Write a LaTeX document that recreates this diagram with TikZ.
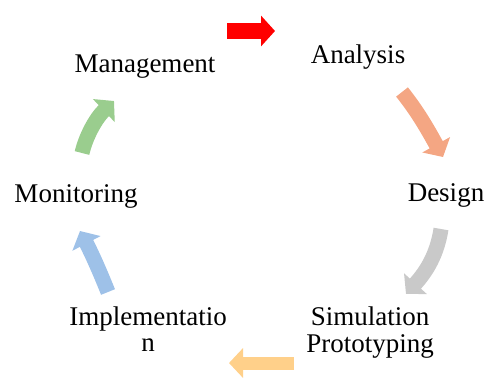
\documentclass[tikz,border=0pt]{standalone}
\usepackage{fontspec}
\setmainfont{Liberation Serif}
\usetikzlibrary{arrows.meta}
\definecolor{cRed}{HTML}{FF0000}
\definecolor{cSalmon}{HTML}{F4A683}
\definecolor{cGray}{HTML}{C9C9C9}
\definecolor{cOrange}{HTML}{FFD08A}
\definecolor{cBlue}{HTML}{9EC1E8}
\definecolor{cGreen}{HTML}{9ACD8E}
\begin{document}
\begin{tikzpicture}[x=1pt,y=-1pt,
  lbl/.style={inner sep=0pt,anchor=base,font=\fontsize{27}{27}\selectfont},
  cyc/.style={line width=#1, line cap=butt},
  head/.style={-{Triangle[width=#1,length=14pt]}}]
\useasboundingbox (0,0) rectangle (489,378);

% stage labels
\node[lbl] (mgmt) at (145,72) {Management};
\node[lbl] (anal) at (358,63) {Analysis};
\node[lbl] (desg) at (446,201) {Design};
\node[lbl] (sim)  at (370,325) {Simulation};
\node[lbl] (proto) at (370,352) {Prototyping};
\node[lbl] (impl) at (148,325) {Implementatio};
\node[lbl] (impln) at (148,351) {n};
\node[lbl] (mon)  at (76,202) {Monitoring};

% cycle arrows
\draw[cRed, cyc=16pt, head=30pt] (227,31) -- (275,31);
\draw[cSalmon, cyc=15pt, head=31pt] (402,92) .. controls (418,112) and (428,130) .. (443,157);
\draw[cGray, cyc=15pt, head=30pt] (441,229) .. controls (437,255) and (426,272) .. (406,294);
\draw[cOrange, cyc=13pt, head=29pt] (294,363) -- (229,363);
\draw[cBlue, cyc=15pt, head=31pt] (108,292) .. controls (100,272) and (92,254) .. (80,231);
\draw[cGreen, cyc=15pt, head=31pt] (82,153) .. controls (86,136) and (96,118) .. (114,101);
\end{tikzpicture}
\end{document}
